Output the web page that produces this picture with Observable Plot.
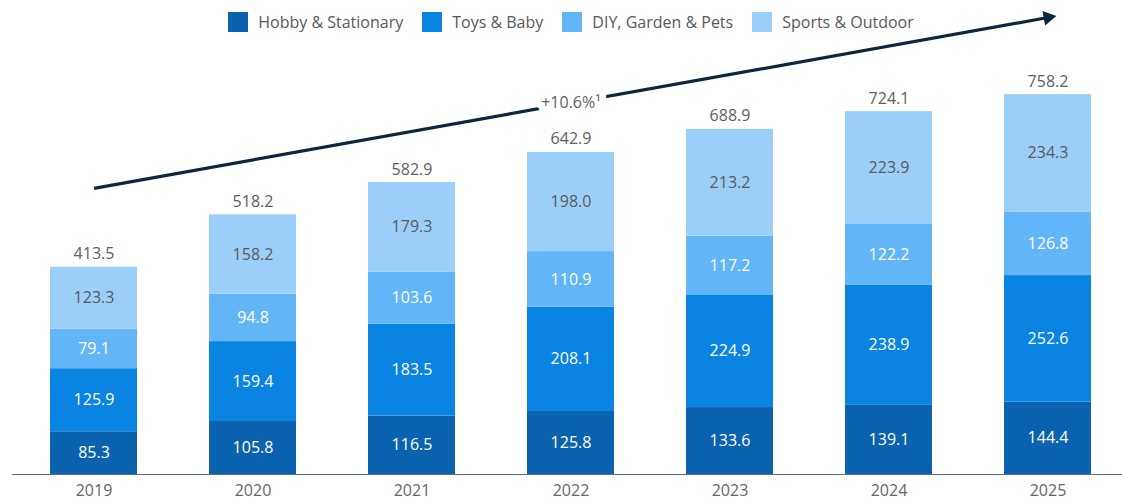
<!DOCTYPE html>
<html>
<head>
<meta charset="utf-8">
<script src="https://cdn.jsdelivr.net/npm/d3@7"></script>
<script src="https://cdn.jsdelivr.net/npm/@observablehq/plot@0.6"></script>
<style>
  html, body { margin: 0; padding: 0; background: #fff; }
  #wrap { position: relative; width: 1122px; height: 501px; font-family: "Open Sans", sans-serif; }
  #legend { position: absolute; top: 12px; left: 0; width: 1142px; display: flex; justify-content: center; gap: 19px; font-size: 16px; color: #595959; }
  .item { display: flex; align-items: center; gap: 10px; line-height: 20px; }
  .sw { width: 20px; height: 20px; display: inline-block; }
  #chart { position: absolute; top: 0; left: 0; }
</style>
</head>
<body>
<div id="wrap">
  <div id="chart"></div>
  <div id="legend"></div>
</div>
<script>
const years = ["2019", "2020", "2021", "2022", "2023", "2024", "2025"];
const categories = ["Hobby & Stationary", "Toys & Baby", "DIY, Garden & Pets", "Sports & Outdoor"];
const colors = ["#0B62AE", "#0A84E3", "#62B5F6", "#9BCFFA"];
const hobby  = [85.3, 105.8, 116.5, 125.8, 133.6, 139.1, 144.4];
const toys   = [125.9, 159.4, 183.5, 208.1, 224.9, 238.9, 252.6];
const diy    = [79.1, 94.8, 103.6, 110.9, 117.2, 122.2, 126.8];
const sports = [123.3, 158.2, 179.3, 198.0, 213.2, 223.9, 234.3];
const totals = [413.5, 518.2, 582.9, 642.9, 688.9, 724.1, 758.2];
const cagrLabel = "+10.6%¹";
// trend arrow, in data terms (year, value)
const arrowFrom = {year: "2019", value: 571};
const arrowTo = {year: "2025", value: 912};
const labelAt = {year: "2022", value: 742};

const series = [hobby, toys, diy, sports];
const rows = [];
categories.forEach((c, ci) => years.forEach((y, yi) => rows.push({year: y, cat: c, value: series[ci][yi]})));
const totalRows = years.map((y, i) => ({year: y, value: totals[i]}));

const fmt = d3.format(".1f");

const chart = Plot.plot({
  width: 1122,
  height: 501,
  marginLeft: 32,
  marginRight: 12,
  marginTop: 0,
  marginBottom: 27,
  style: {fontFamily: "Open Sans, sans-serif", background: "transparent"},
  x: {domain: years, paddingInner: 0.45, paddingOuter: 0.1, axis: null},
  y: {domain: [0, 946], axis: null},
  color: {domain: categories, range: colors},
  marks: [
    Plot.barY(rows, {x: "year", y: "value", fill: "cat", order: categories}),
    Plot.text(rows.filter(d => d.cat !== "Sports & Outdoor"), Plot.stackY({x: "year", y: "value", z: "cat", order: categories.slice(0, 3), text: d => fmt(d.value), fill: "white", fontSize: 16})),
    Plot.text(rows, Plot.stackY({x: "year", y: "value", z: "cat", order: categories, text: d => d.cat === "Sports & Outdoor" ? fmt(d.value) : "", fill: "#595959", fontSize: 16})),
    Plot.text(totalRows, {x: "year", y: "value", text: d => fmt(d.value), dy: -13, fill: "#606060", fontSize: 16}),
    Plot.ruleY([0], {stroke: "#5f6b77", strokeWidth: 1.2, insetLeft: -20, insetRight: -12}),
    Plot.text(years, {x: d => d, y: () => 0, text: d => d, dy: 16, fill: "#666", fontSize: 16}),
    Plot.link([{a: arrowFrom, b: arrowTo}], {x1: d => d.a.year, y1: d => d.a.value, x2: d => d.b.year, y2: d => d.b.value, stroke: "#0D2640", strokeWidth: 3.2}),
    Plot.dot([arrowTo], {x: "year", y: "value", symbol: "triangle", r: 5.5, fill: "#0D2640", stroke: null, rotate: 80}),
    Plot.text([labelAt], {x: "year", y: "value", text: () => cagrLabel, fill: "#606060", fontSize: 16, stroke: "white", strokeWidth: 14})
  ]
});
document.getElementById("chart").appendChild(chart);

const legend = document.getElementById("legend");
categories.forEach((c, i) => {
  const it = document.createElement("div");
  it.className = "item";
  const sw = document.createElement("span");
  sw.className = "sw";
  sw.style.background = colors[i];
  const t = document.createElement("span");
  t.textContent = c;
  it.appendChild(sw); it.appendChild(t);
  legend.appendChild(it);
});
</script>
</body>
</html>
